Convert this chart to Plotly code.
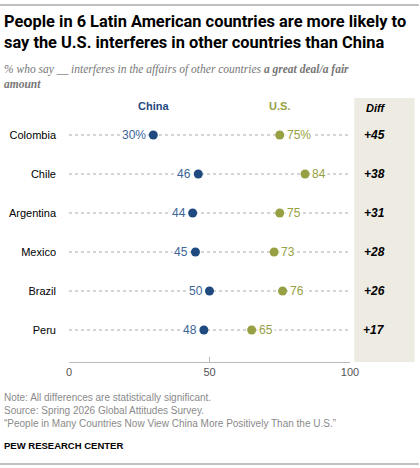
import plotly.graph_objects as go

countries = ['Colombia', 'Chile', 'Argentina', 'Mexico', 'Brazil', 'Peru']
china = [30, 46, 44, 45, 50, 48]
us = [75, 84, 75, 73, 76, 65]
diffs = ['+45', '+38', '+31', '+28', '+26', '+17']

CHINA_C = '#1f4a7f'
US_C = '#97a043'
rows = list(range(len(countries)))

fig = go.Figure()
for i in rows:
    fig.add_trace(go.Scatter(x=[0, 100], y=[i, i], mode='lines',
                             line=dict(color='#aaaaaa', width=1, dash='dot'),
                             hoverinfo='skip', showlegend=False))

ann = []
for i, c in enumerate(countries):
    ann.append(dict(x=china[i], y=i, xref='x', yref='y', text=f'{china[i]}%' if i == 0 else str(china[i]),
                    showarrow=False, xanchor='right', xshift=-5, bgcolor='white', borderpad=1,
                    font=dict(color='#3c6697', size=12)))
    ann.append(dict(x=us[i], y=i, xref='x', yref='y', text=f'{us[i]}%' if i == 0 else str(us[i]),
                    showarrow=False, xanchor='left', xshift=5, bgcolor='white', borderpad=1,
                    font=dict(color=US_C, size=12)))
    ann.append(dict(x=1.13, y=i, xref='paper', yref='y', text=f'<b><i>{diffs[i]}</i></b>',
                    showarrow=False, font=dict(color='black', size=12)))

fig.add_trace(go.Scatter(x=china, y=rows, mode='markers', marker=dict(color=CHINA_C, size=9),
                         showlegend=False))
fig.add_trace(go.Scatter(x=us, y=rows, mode='markers', marker=dict(color=US_C, size=9),
                         showlegend=False))

L = -67 / 281
ann += [
    dict(x=30, y=-0.75, xref='x', yref='y', text='<b>China</b>', showarrow=False,
         font=dict(color=CHINA_C, size=11)),
    dict(x=75, y=-0.75, xref='x', yref='y', text='<b>U.S.</b>', showarrow=False,
         font=dict(color=US_C, size=11)),
    dict(x=1.13, y=-0.7, xref='paper', yref='y', text='<b><i>Diff</i></b>', showarrow=False,
         font=dict(color='black', size=11)),
    dict(x=L, y=1 + 88 / 264, xref='paper', yref='paper', xanchor='left', yanchor='top',
         align='left', showarrow=False,
         text='<b>People in 6 Latin American countries are more likely to<br>say the U.S. interferes in other countries than China</b>',
         font=dict(family='Roboto', size=16.4, color='black')),
    dict(x=L, y=1 + 37 / 264, xref='paper', yref='paper', xanchor='left', yanchor='top',
         align='left', showarrow=False,
         text='<i>% who say __ interferes in the affairs of other countries <b>a great deal/a fair<br>amount</b></i>',
         font=dict(family='Liberation Serif', size=11.5, color='#777777')),
    dict(x=L, y=-28 / 264, xref='paper', yref='paper', xanchor='left', yanchor='top',
         align='left', showarrow=False,
         text='Note: All differences are statistically significant.<br>Source: Spring 2026 Global Attitudes Survey.<br>“People in Many Countries Now View China More Positively Than the U.S.”',
         font=dict(family='Liberation Sans', size=10, color='#8a8a8a')),
    dict(x=L, y=-76 / 264, xref='paper', yref='paper', xanchor='left', yanchor='top',
         showarrow=False, text='<b>PEW RESEARCH CENTER</b>',
         font=dict(family='Liberation Sans', size=9.5, color='black')),
]

fig.update_layout(
    width=420, height=468, margin=dict(l=69, r=70, t=98, b=106),
    plot_bgcolor='white', paper_bgcolor='white',
    font=dict(family='Liberation Sans', color='black', size=11),
    annotations=ann,
    shapes=[
        dict(type='rect', xref='paper', yref='paper', x0=1.015, x1=1.23, y0=0, y1=1,
             fillcolor='#eeebe3', line=dict(width=0), layer='below'),
        dict(type='line', xref='paper', yref='paper', x0=-69 / 281, x1=1.245, y0=1 + 93 / 264, y1=1 + 93 / 264,
             line=dict(color='#aaaaaa', width=1.5), layer='above'),
        dict(type='line', xref='paper', yref='paper', x0=-69 / 281, x1=1.245, y0=-102 / 264, y1=-102 / 264,
             line=dict(color='#aaaaaa', width=1.5), layer='above'),
    ],
    xaxis=dict(range=[0, 100], tickvals=[0, 50, 100], showgrid=False, zeroline=False,
               showline=True, linecolor='#bbbbbb', ticks='inside', ticklen=5, tickcolor='#bbbbbb',
               tickfont=dict(color='#555555', size=11), automargin=False),
    yaxis=dict(range=[5.82, -0.949], tickvals=rows, ticktext=countries, showgrid=False,
               zeroline=False, ticklabelstandoff=12, tickfont=dict(size=11), automargin=False),
)

fig.write_html('out.html', config={'displayModeBar': False},
               post_script="document.body.style.margin='0';")
